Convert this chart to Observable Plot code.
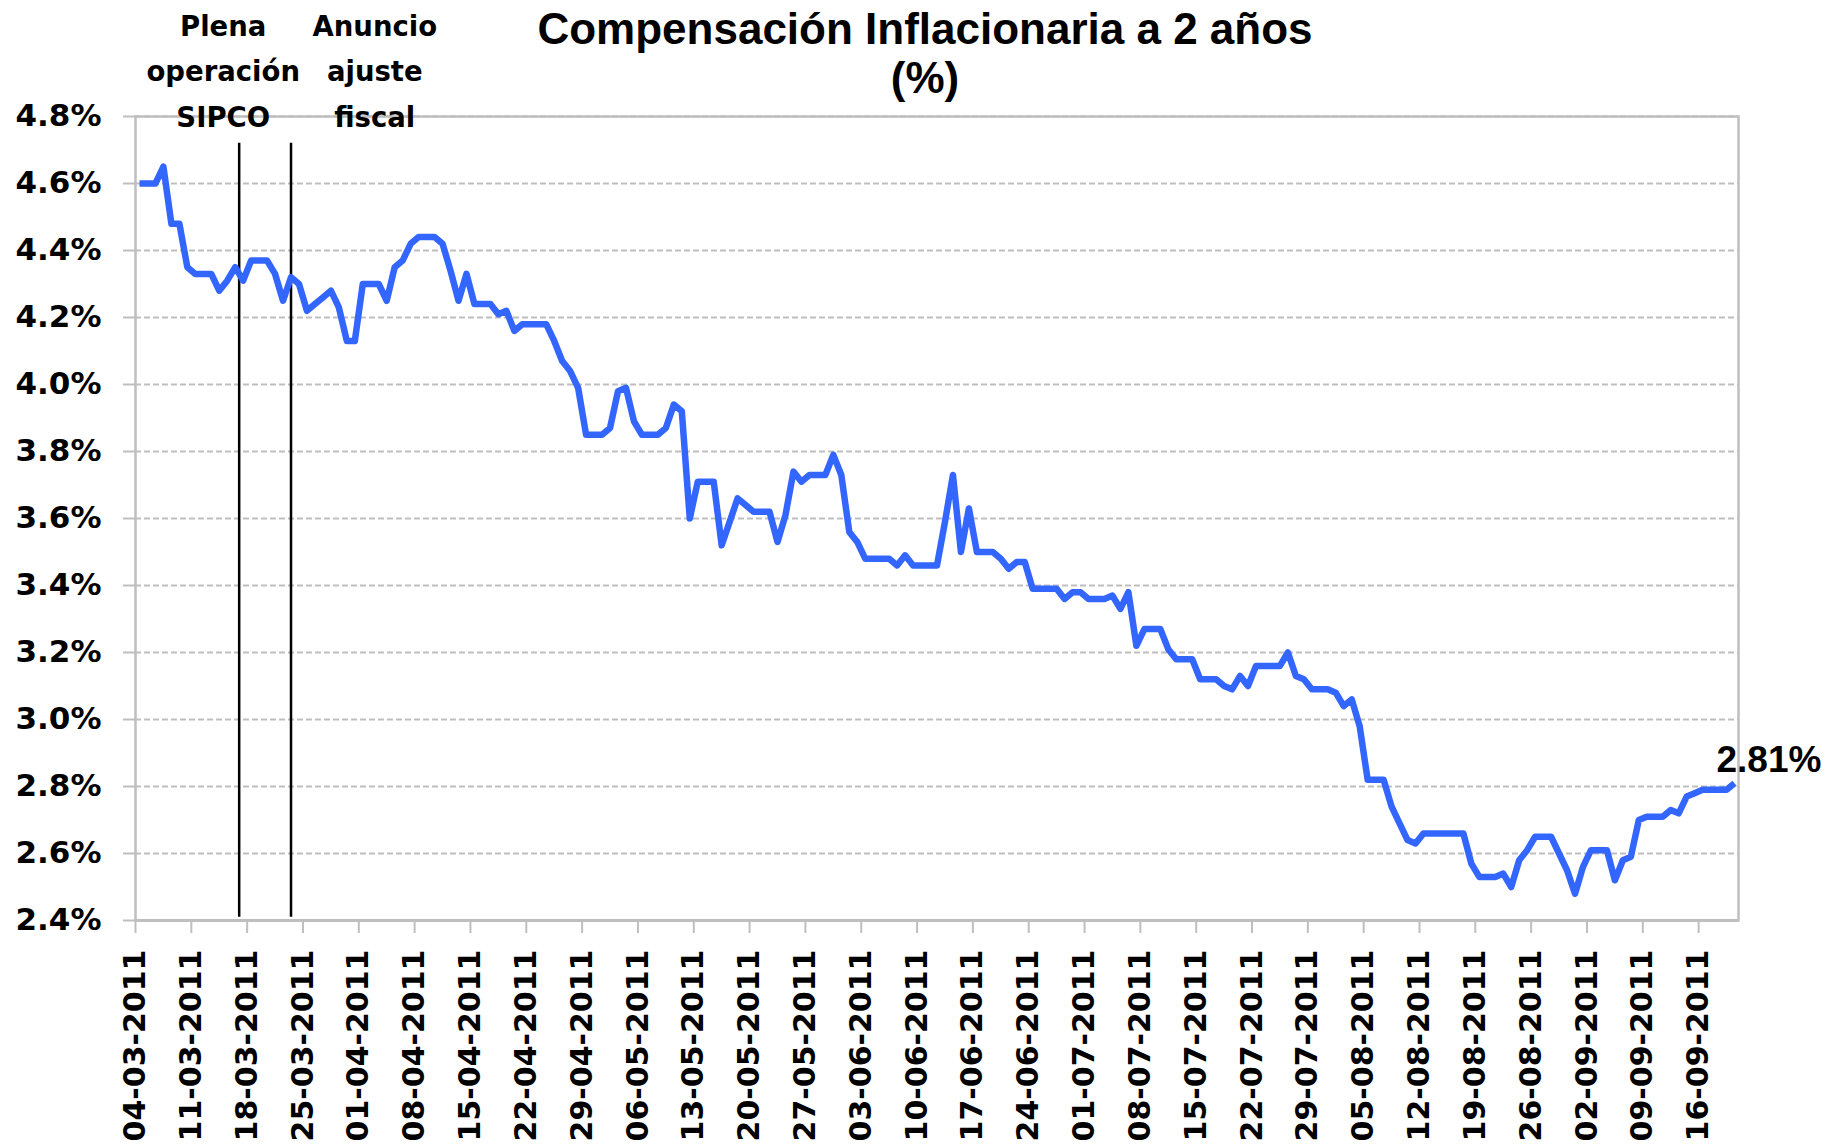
<!DOCTYPE html>
<html>
<head>
<meta charset="utf-8">
<script src="https://cdn.jsdelivr.net/npm/d3@7"></script>
<script src="https://cdn.jsdelivr.net/npm/@observablehq/plot@0.6"></script>
<style>
  html, body { margin: 0; padding: 0; background: #ffffff; }
  #chart svg { display: block; }
</style>
</head>
<body>
<div id="chart"></div>
<script>
// ---- Data (daily values, %) ----
const title = "Compensación Inflacionaria a 2 años";
const subtitle = "(%)";
const year = 2011;
const marStart = 4;   // first value is 04-03-2011
const mar = [4.60,4.60,4.60,4.65,4.48,4.48,4.35,4.33,4.33,4.33,4.28,4.31,4.35,4.31,4.37,4.37,4.37,4.33,4.25,4.32,4.30,4.22,4.24,4.26,4.28,4.23,4.13,4.13];
const apr = [4.30,4.30,4.30,4.25,4.35,4.37,4.42,4.44,4.44,4.44,4.42,4.34,4.25,4.33,4.24,4.24,4.24,4.21,4.22,4.16,4.18,4.18,4.18,4.18,4.13,4.07,4.04,3.99,3.85,3.85];
const may = [3.85,3.87,3.98,3.99,3.89,3.85,3.85,3.85,3.87,3.94,3.92,3.60,3.71,3.71,3.71,3.52,3.59,3.66,3.64,3.62,3.62,3.62,3.53,3.61,3.74,3.71,3.73,3.73,3.73,3.79,3.73];
const jun = [3.56,3.53,3.48,3.48,3.48,3.48,3.46,3.49,3.46,3.46,3.46,3.46,3.59,3.73,3.50,3.63,3.50,3.50,3.50,3.48,3.45,3.47,3.47,3.39,3.39,3.39,3.39,3.36,3.38,3.38];
const jul = [3.36,3.36,3.36,3.37,3.33,3.38,3.22,3.27,3.27,3.27,3.21,3.18,3.18,3.18,3.12,3.12,3.12,3.10,3.09,3.13,3.10,3.16,3.16,3.16,3.16,3.20,3.13,3.12,3.09,3.09,3.09];
const aug = [3.08,3.04,3.06,2.98,2.82,2.82,2.82,2.74,2.69,2.64,2.63,2.66,2.66,2.66,2.66,2.66,2.66,2.57,2.53,2.53,2.53,2.54,2.50,2.58,2.61,2.65,2.65,2.65,2.60,2.55,2.48];
const sep = [2.56,2.61,2.61,2.61,2.52,2.58,2.59,2.70,2.71,2.71,2.71,2.73,2.72,2.77,2.78,2.79,2.79,2.79,2.79,2.81];

const tickLabels = ["04-03-2011","11-03-2011","18-03-2011","25-03-2011","01-04-2011","08-04-2011","15-04-2011","22-04-2011","29-04-2011","06-05-2011","13-05-2011","20-05-2011","27-05-2011","03-06-2011","10-06-2011","17-06-2011","24-06-2011","01-07-2011","08-07-2011","15-07-2011","22-07-2011","29-07-2011","05-08-2011","12-08-2011","19-08-2011","26-08-2011","02-09-2011","09-09-2011","16-09-2011"];
const yTicks = [2.4,2.6,2.8,3.0,3.2,3.4,3.6,3.8,4.0,4.2,4.4,4.6,4.8];
const xDomain = ["2011-03-04","2011-09-21"];

const events = [
  {label: "Plena\noperación\nSIPCO", line: "2011-03-17T00:00Z", textAt: "2011-03-15"},
  {label: "Anuncio\najuste\nfiscal", line: "2011-03-23T12:00Z", textAt: "2011-04-03"}
];

// ---- Build table ----
const months = [[2, marStart, mar],[3,1,apr],[4,1,may],[5,1,jun],[6,1,jul],[7,1,aug],[8,1,sep]];
const series = [];
for (const [m, start, vals] of months) {
  vals.forEach((v, i) => series.push({date: new Date(Date.UTC(year, m, start + i, 12)), value: v}));
}
const parseTick = d3.utcParse("%d-%m-%Y");
const tickDates = tickLabels.map(parseTick);
const fmtTick = d3.utcFormat("%d-%m-%Y");
const last = series[series.length - 1];

const grey = "#bfbfbf";
const blue = "#3366ff";

const chart = Plot.plot({
  width: 1830,
  height: 1144,
  marginLeft: 135,
  marginRight: 92,
  marginTop: 116,
  marginBottom: 224,
  style: {background: "#ffffff", color: "#000000", fontFamily: "'DejaVu Sans', sans-serif", fontSize: "30px", fontWeight: "bold", overflow: "visible"},
  x: {type: "utc", domain: xDomain.map(d => new Date(d)), label: null},
  y: {domain: [2.4, 4.8], label: null},
  marks: [
    Plot.gridY(yTicks.filter(t => t > 2.4), {stroke: grey, strokeOpacity: 1, strokeWidth: 2, strokeDasharray: "6,3"}),
    Plot.frame({stroke: grey, strokeWidth: 2.5}),
    Plot.ruleY([2.4], {stroke: grey, strokeWidth: 3}),
    Plot.axisY({ticks: yTicks, tickFormat: d => d.toFixed(1) + "%", tickSize: 12, tickPadding: 22, stroke: grey, strokeWidth: 2, fill: "#000000", fontSize: 31, fontWeight: "bold", label: null}),
    Plot.axisX({ticks: tickDates, tickFormat: fmtTick, tickRotate: -90, tickSize: 13, tickPadding: 16, stroke: grey, strokeWidth: 2, fill: "#000000", fontSize: 30, fontWeight: "bold", label: null}),
    Plot.ruleX(events, {x: d => new Date(d.line), y1: 4.72, y2: 2.41, stroke: "#000000", strokeWidth: 2.5}),
    Plot.line(series, {x: "date", y: "value", stroke: blue, strokeWidth: 6.5, strokeLinejoin: "round", strokeLinecap: "butt"}),
    Plot.text(events, {x: d => new Date(d.textAt), y: 4.77, text: "label", lineAnchor: "bottom", lineHeight: 1.64, fontSize: 27.5, fontWeight: "bold", fontFamily: "'DejaVu Sans', sans-serif", fill: "#000000", clip: false}),
    Plot.text([last], {x: "date", y: "value", text: d => d.value.toFixed(2) + "%", textAnchor: "start", lineAnchor: "bottom", dx: -18, dy: -11, fontSize: 37, fontWeight: "bold", fontFamily: "'Liberation Sans', Arial, sans-serif", fill: "#000000"}),
    Plot.text([title + "\n" + subtitle], {frameAnchor: "top", lineAnchor: "bottom", dx: -12, dy: -24, lineHeight: 1.1, fontSize: 44, fontWeight: "bold", fontFamily: "'Liberation Sans', Arial, sans-serif", fill: "#000000"})
  ]
});
document.getElementById("chart").appendChild(chart);
</script>
</body>
</html>
